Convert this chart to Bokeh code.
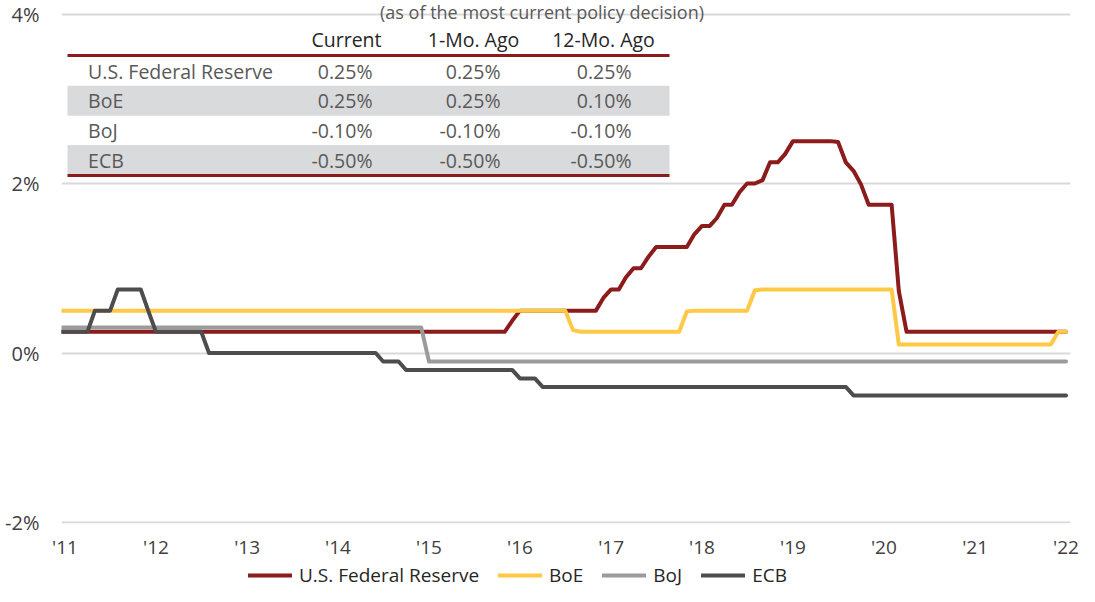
import pandas as pd
from bokeh.plotting import figure
from bokeh.layouts import column
from bokeh.models import (Range1d, FixedTicker, DatetimeTickFormatter, PrintfTickFormatter,
                          Legend, LegendItem, Label)
from bokeh.core.properties import value
from bokeh.embed import file_html
from bokeh.resources import INLINE

# ---------------- data ----------------
fed_dates = ["2010-12-01", "2015-11-01", "2015-12-01", "2016-01-01", "2016-11-01", "2016-12-01",
             "2017-01-01", "2017-02-01", "2017-03-01", "2017-04-01", "2017-05-01", "2017-06-01",
             "2017-07-01", "2017-11-01", "2017-12-01", "2018-01-01", "2018-02-01", "2018-03-01",
             "2018-04-01", "2018-05-01", "2018-06-01", "2018-07-01", "2018-08-01", "2018-09-01",
             "2018-10-01", "2018-11-01", "2018-12-01", "2019-01-01", "2019-06-01", "2019-07-01",
             "2019-08-01", "2019-09-01", "2019-10-01", "2019-11-01", "2020-02-01", "2020-03-01",
             "2020-04-01", "2022-01-01"]
fed_vals = [0.25, 0.25, 0.38, 0.50, 0.50, 0.65,
            0.75, 0.75, 0.89, 1.00, 1.00, 1.14,
            1.25, 1.25, 1.40, 1.50, 1.50, 1.59,
            1.75, 1.75, 1.90, 2.00, 2.00, 2.04,
            2.25, 2.25, 2.35, 2.50, 2.50, 2.49,
            2.25, 2.15, 1.99, 1.75, 1.75, 0.73,
            0.25, 0.25]

boe_dates = ["2010-12-01", "2016-07-01", "2016-08-01", "2016-09-01", "2017-10-01", "2017-11-01",
             "2017-12-01", "2018-07-01", "2018-08-01", "2018-09-01", "2020-02-01", "2020-03-01",
             "2021-11-01", "2021-12-01", "2022-01-01"]
boe_vals = [0.50, 0.50, 0.27, 0.25, 0.25, 0.49,
            0.50, 0.50, 0.74, 0.75, 0.75, 0.10,
            0.10, 0.25, 0.25]

boj_dates = ["2010-12-01", "2014-12-01", "2015-01-01", "2022-01-01"]
boj_vals = [0.30, 0.30, -0.10, -0.10]

ecb_dates = ["2010-12-01", "2011-04-01", "2011-05-01", "2011-07-01", "2011-08-01", "2011-11-01",
             "2011-12-01", "2012-01-01", "2012-07-01", "2012-08-01", "2014-06-01", "2014-07-01",
             "2014-09-01", "2014-10-01", "2015-12-01", "2016-01-01", "2016-03-01", "2016-04-01",
             "2019-08-01", "2019-09-01", "2022-01-01"]
ecb_vals = [0.25, 0.25, 0.50, 0.50, 0.75, 0.75,
            0.50, 0.25, 0.25, 0.00, 0.00, -0.10,
            -0.10, -0.20, -0.20, -0.30, -0.30, -0.40,
            -0.40, -0.50, -0.50]

series_names = ["U.S. Federal Reserve", "BoE", "BoJ", "ECB"]
series_colors = ["#8C1B1B", "#FFC845", "#9B9B9B", "#4D4D4D"]

year_ticks = ["2011-01-01", "2012-01-01", "2013-01-01", "2014-01-01", "2015-01-01", "2016-01-01",
              "2017-01-01", "2018-01-01", "2019-01-01", "2020-01-01", "2021-01-01", "2022-01-01"]
y_ticks = [-2, 0, 2, 4]

table_title = "(as of the most current policy decision)"
table_headers = ["Current", "1-Mo. Ago", "12-Mo. Ago"]
table_banks = ["U.S. Federal Reserve", "BoE", "BoJ", "ECB"]
table_current = ["0.25%", "0.25%", "-0.10%", "-0.50%"]
table_1mo = ["0.25%", "0.25%", "-0.10%", "-0.50%"]
table_12mo = ["0.25%", "0.10%", "-0.10%", "-0.50%"]

# ---------------- main figure ----------------
FONT = "Open Sans"
p = figure(frame_width=1009, frame_height=523, x_axis_type="datetime",
           output_backend="svg", toolbar_location=None,
           x_range=Range1d(pd.Timestamp("2010-12-17 22:48"), pd.Timestamp("2022-01-19")),
           y_range=Range1d(-2.0118, 4.1593),
           min_border_left=61, min_border_right=9, min_border_top=0, min_border_bottom=37)
p.outline_line_color = None
p.background_fill_color = "white"
p.border_fill_color = "white"

# helper ranges (picture pixel coordinates) for the table overlay
p.extra_x_ranges = {"px": Range1d(64, 1073)}
p.extra_y_ranges = {"py": Range1d(524, 1)}

p.xgrid.visible = False
p.ygrid.grid_line_color = "#D9D9D9"
p.ygrid.grid_line_width = 2

p.yaxis.ticker = FixedTicker(ticks=y_ticks)
p.yaxis.formatter = PrintfTickFormatter(format="%d%%")
p.xaxis.ticker = FixedTicker(ticks=[pd.Timestamp(d).value / 1e6 for d in year_ticks])
fmt = "'%y"
p.xaxis.formatter = DatetimeTickFormatter(years=fmt, months=fmt, days=fmt, hours=fmt, hourmin=fmt,
                                          minutes=fmt, minsec=fmt, seconds=fmt,
                                          milliseconds=fmt, microseconds=fmt)
for ax in (p.xaxis, p.yaxis):
    ax.axis_line_color = None
    ax.major_tick_line_color = None
    ax.minor_tick_line_color = None
    ax.major_tick_out = 0
    ax.major_tick_in = 0
    ax.major_label_text_font = FONT
    ax.major_label_text_color = "#404040"
p.yaxis.major_label_text_font_size = "20px"
p.xaxis.major_label_text_font_size = "19px"
p.yaxis.major_label_standoff = 22
p.xaxis.major_label_standoff = 10

# ---------------- lines ----------------
all_dates = [fed_dates, boe_dates, boj_dates, ecb_dates]
all_vals = [fed_vals, boe_vals, boj_vals, ecb_vals]
for d, v, c in zip(all_dates, all_vals, series_colors):
    p.line(pd.to_datetime(d), v, line_color=c, line_width=4,
           line_join="round", line_cap="round")

# ---------------- table overlay ----------------
TX0, TX1 = 70, 672
row_y = [71.5, 101.2, 130.9, 160.6]
band_rows = [1, 3]
p.quad(left=[TX0] * len(band_rows), right=[TX1] * len(band_rows),
       top=[row_y[i] - 15 for i in band_rows], bottom=[row_y[i] + 15 for i in band_rows],
       fill_color="#D9DADC", line_color=None, x_range_name="px", y_range_name="py")
p.segment(x0=[TX0, TX0], x1=[TX1, TX1], y0=[56, 176], y1=[56, 176],
          line_color="#8C1B1B", line_width=3, x_range_name="px", y_range_name="py")

p.text(x=[349, 476, 606], y=[40] * 3, text=table_headers, text_font=value(FONT),
       text_font_size="19.5px", text_color="#262626", text_align="center", text_baseline="middle",
       x_range_name="px", y_range_name="py")
p.text(x=[90.6] * 4, y=row_y, text=table_banks, text_font=value(FONT),
       text_font_size="19.5px", text_color="#595959", text_align="left", text_baseline="middle",
       x_range_name="px", y_range_name="py")
for col_x, col in zip([375, 503, 634], [table_current, table_1mo, table_12mo]):
    p.text(x=[col_x] * 4, y=row_y, text=col, text_font=value(FONT),
           text_font_size="19.5px", text_color="#595959", text_align="right", text_baseline="middle",
           x_range_name="px", y_range_name="py")

title = Label(x=544.5, y=12.5, x_range_name="px", y_range_name="py", text=table_title,
              text_align="center", text_baseline="alphabetic", text_font=FONT,
              text_font_size="18px", text_color="#595959")
p.add_layout(title)

# ---------------- legend strip ----------------
leg = figure(width=1079, height=26, output_backend="svg", toolbar_location=None,
             x_range=Range1d(0, 1), y_range=Range1d(0, 1),
             x_axis_location=None, y_axis_location=None,
             min_border_left=0, min_border_right=0, min_border_top=0, min_border_bottom=0)
leg.outline_line_color = None
leg.grid.visible = False
leg.background_fill_color = "white"
leg.border_fill_color = "white"
# legend swatches reuse the series (they fall outside this strip's ranges, only the swatch shows)
leg_renderers = [leg.line(pd.to_datetime(d), v, line_color=c, line_width=4, line_cap="round")
                 for d, v, c in zip(all_dates, all_vals, series_colors)]
legend = Legend(items=[LegendItem(label=n, renderers=[r]) for n, r in zip(series_names, leg_renderers)],
                location=(187, 0), orientation="horizontal",
                glyph_width=44, glyph_height=20, label_standoff=7, spacing=19,
                padding=0, margin=0, border_line_color=None, background_fill_alpha=0,
                label_text_font=FONT, label_text_font_size="19px", label_text_color="#262626")
leg.add_layout(legend, "center")

layout = column(p, leg, spacing=0)
open("out.html", "w").write(file_html(layout, INLINE, title="Policy rates"))
